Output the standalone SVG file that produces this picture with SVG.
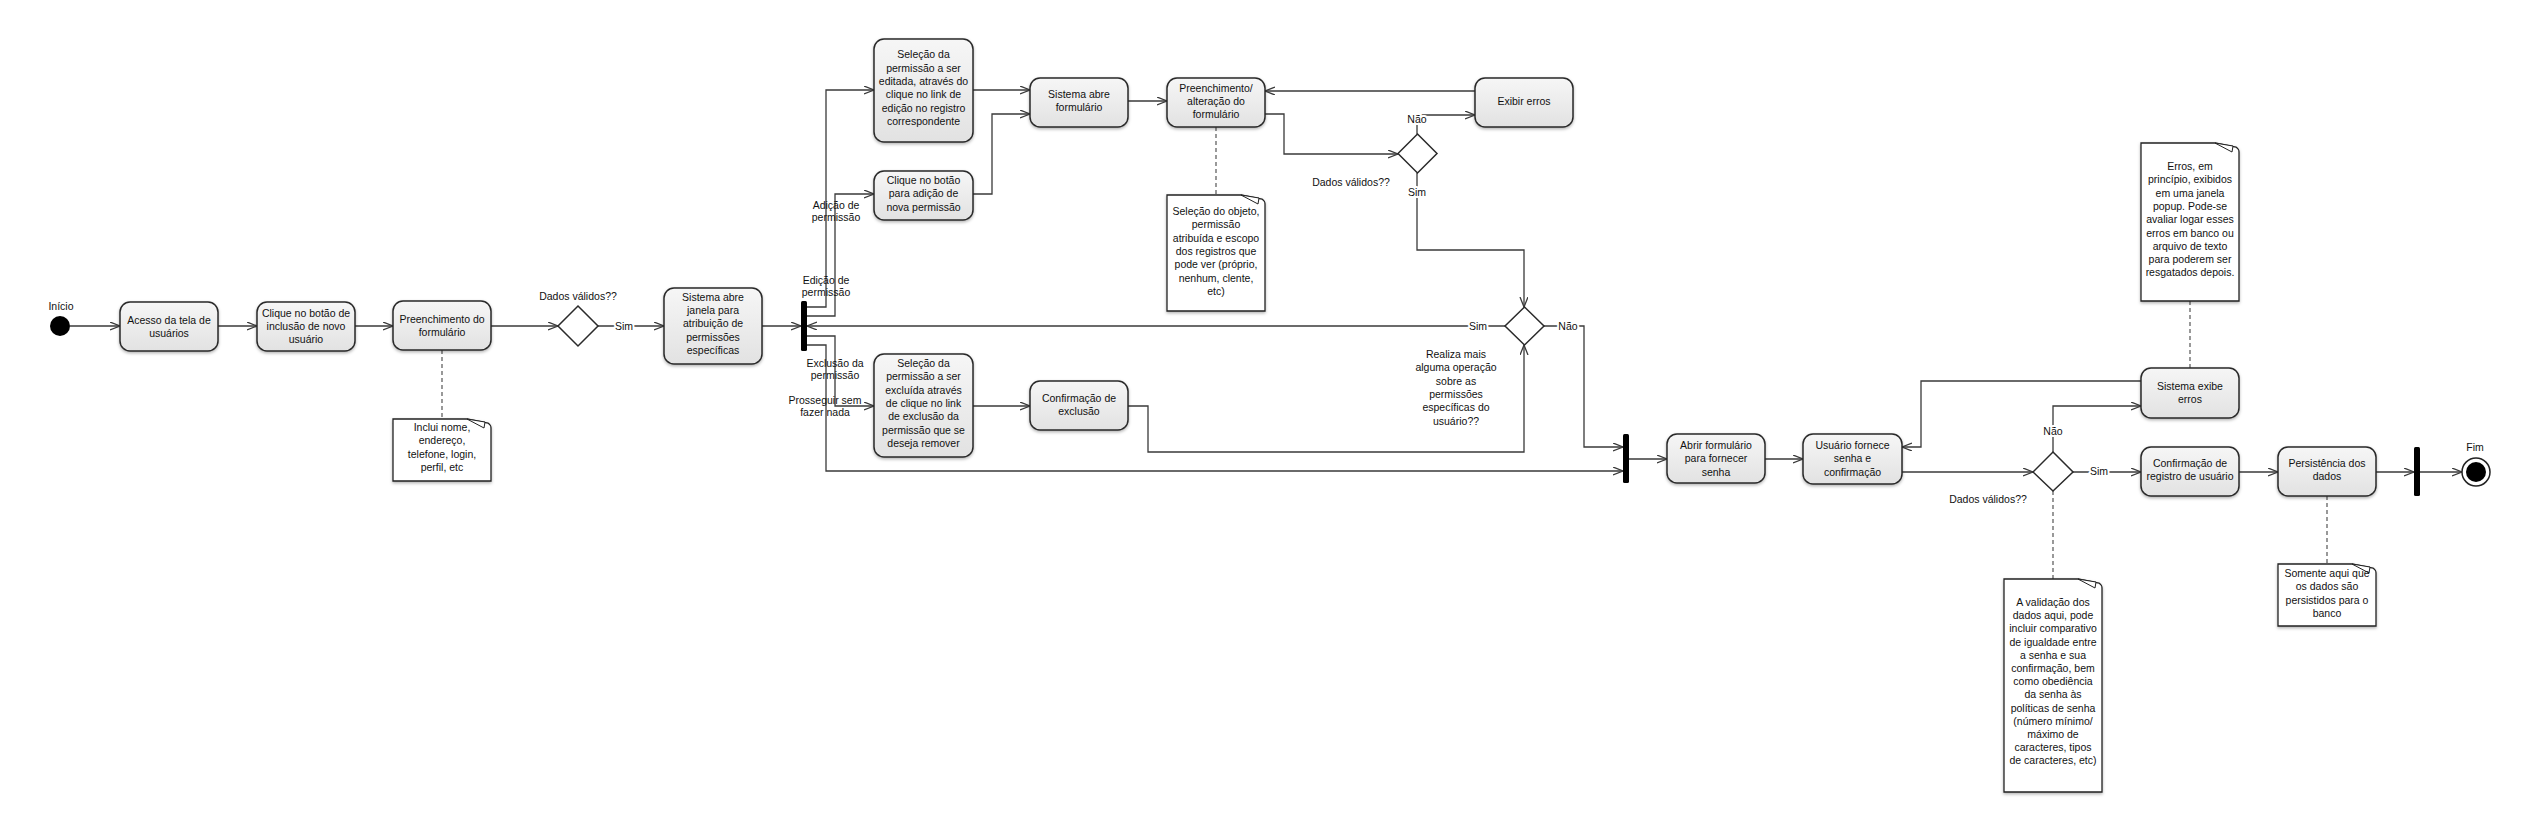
<svg xmlns="http://www.w3.org/2000/svg" width="2533" height="831" viewBox="0 0 2533 831">
<style>
text{font-family:"Liberation Sans",Arial,sans-serif;font-size:10.5px;fill:#111;text-anchor:middle}
.box{fill:url(#g);stroke:#2a2a2a;stroke-width:1.5;filter:url(#sh)}
.note{fill:#fff;stroke:#222;stroke-width:1.3;filter:url(#sh)}
.curl{fill:#fff;stroke:#222;stroke-width:1}
.bar{fill:#000}
.c{fill:none;stroke:#3a3a3a;stroke-width:1.3;marker-end:url(#a)}
.d{fill:none;stroke:#555;stroke-width:1.2;stroke-dasharray:4 3}
.lbl{paint-order:stroke;stroke:#fff;stroke-width:4px;stroke-linejoin:round}
</style>
<defs>
<linearGradient id="g" x1="0" y1="0" x2="0" y2="1"><stop offset="0" stop-color="#f6f6f6"/><stop offset="1" stop-color="#e2e2e2"/></linearGradient>
<filter id="sh" x="-10%" y="-10%" width="130%" height="130%"><feDropShadow dx="0" dy="1.5" stdDeviation="1.5" flood-color="#000" flood-opacity="0.3"/></filter>
<marker id="a" markerWidth="12" markerHeight="10" refX="10" refY="4" orient="auto" markerUnits="userSpaceOnUse"><path d="M0,0 L10,4 L0,8" fill="none" stroke="#3a3a3a" stroke-width="1.3"/></marker>
</defs>

<g id="connectors">
<path class="c" d="M70,326 H120"/>
<path class="c" d="M218,326 H257"/>
<path class="c" d="M355,326 H393"/>
<path class="c" d="M491,326 H558"/>
<path class="c" d="M598,326 H664"/>
<path class="c" d="M762,326 H801"/>
<path class="c" d="M1505,326 H807"/>
<path class="c" d="M807,307 H826 V90 H874"/>
<path class="c" d="M807,316 H835 V194 H874"/>
<path class="c" d="M807,336 H835 V406 H874"/>
<path class="c" d="M807,345 H826 V471 H1623"/>
<path class="c" d="M973,90 H1030"/>
<path class="c" d="M973,194 H992 V114 H1030"/>
<path class="c" d="M1128,101 H1167"/>
<path class="c" d="M1265,114 H1284 V154 H1398"/>
<path class="c" d="M1417,134 V115 H1475"/>
<path class="c" d="M1475,91 H1265"/>
<path class="c" d="M1417,173 V250 H1524 V307"/>
<path class="c" d="M973,406 H1030"/>
<path class="c" d="M1128,406 H1148 V452 H1524 V345"/>
<path class="c" d="M1544,326 H1584 V447 H1623"/>
<path class="c" d="M1629,459 H1667"/>
<path class="c" d="M1765,459 H1803"/>
<path class="c" d="M1902,472 H2033"/>
<path class="c" d="M2053,452 V406 H2141"/>
<path class="c" d="M2141,381 H1921 V447 H1902"/>
<path class="c" d="M2073,472 H2141"/>
<path class="c" d="M2239,472 H2278"/>
<path class="c" d="M2376,472 H2414"/>
<path class="c" d="M2420,472 H2462"/>
<path class="d" d="M442,350 V419"/>
<path class="d" d="M1216,127 V195"/>
<path class="d" d="M2190,301 V368"/>
<path class="d" d="M2053,491 V579"/>
<path class="d" d="M2327,496 V564"/>
<text x="61" y="310">Início</text>
<text x="578" y="300">Dados válidos??</text>
<text class="lbl" x="624" y="330">Sim</text>
<text x="826" y="284">Edição de</text><text x="826" y="296">permissão</text>
<text x="836" y="209">Adição de</text><text x="836" y="221">permissão</text>
<text x="835" y="367">Exclusão da</text><text x="835" y="379">permissão</text>
<text x="825" y="404">Prosseguir sem</text><text x="825" y="416">fazer nada</text>
<text class="lbl" x="1417" y="123">Não</text>
<text x="1351" y="186">Dados válidos??</text>
<text class="lbl" x="1417" y="196">Sim</text>
<text class="lbl" x="1478" y="330">Sim</text>
<text class="lbl" x="1568" y="330">Não</text>
<text x="1456" y="358">Realiza mais</text>
<text x="1456" y="371.3">alguma operação</text>
<text x="1456" y="384.6">sobre as</text>
<text x="1456" y="397.9">permissões</text>
<text x="1456" y="411.2">específicas do</text>
<text x="1456" y="424.5">usuário??</text>
<text class="lbl" x="2053" y="435">Não</text>
<text x="1988" y="503">Dados válidos??</text>
<text class="lbl" x="2099" y="475">Sim</text>
<text x="2475" y="451">Fim</text>
</g>

<g id="start"><circle cx="60" cy="326" r="10" fill="#000"/></g>

<g id="acesso"><rect class="box" x="120" y="302" width="98" height="49" rx="10"/>
<text x="169" y="323.5">Acesso da tela de</text><text x="169" y="336.7">usuários</text></g>

<g id="clique-inclusao"><rect class="box" x="257" y="302" width="98" height="49" rx="10"/>
<text x="306" y="317">Clique no botão de</text><text x="306" y="330.2">inclusão de novo</text><text x="306" y="343.4">usuário</text></g>

<g id="preenchimento"><rect class="box" x="393" y="301" width="98" height="49" rx="10"/>
<text x="442" y="322.7">Preenchimento do</text><text x="442" y="335.9">formulário</text></g>

<g id="dec1"><path d="M578,306 L598,326 L578,346 L558,326 Z" fill="#fff" stroke="#2a2a2a" stroke-width="1.5"/></g>

<g id="janela"><rect class="box" x="664" y="288" width="98" height="76" rx="10"/>
<text x="713" y="301">Sistema abre</text><text x="713" y="314.2">janela para</text><text x="713" y="327.4">atribuição de</text><text x="713" y="340.6">permissões</text><text x="713" y="353.8">específicas</text></g>

<g id="fork"><rect class="bar" x="801" y="301" width="6" height="50" rx="1.5"/></g>

<g id="sel-edit"><rect class="box" x="874" y="39" width="99" height="103" rx="10"/>
<text x="923.5" y="58.3">Seleção da</text><text x="923.5" y="71.6">permissão a ser</text><text x="923.5" y="84.9">editada, através do</text><text x="923.5" y="98.2">clique no link de</text><text x="923.5" y="111.5">edição no registro</text><text x="923.5" y="124.8">correspondente</text></g>

<g id="clique-adicao"><rect class="box" x="874" y="171" width="99" height="49" rx="10"/>
<text x="923.5" y="184">Clique no botão</text><text x="923.5" y="197.3">para adição de</text><text x="923.5" y="210.6">nova permissão</text></g>

<g id="abre-form"><rect class="box" x="1030" y="78" width="98" height="49" rx="10"/>
<text x="1079" y="98.3">Sistema abre</text><text x="1079" y="111.3">formulário</text></g>

<g id="preench-alt"><rect class="box" x="1167" y="78" width="98" height="49" rx="10"/>
<text x="1216" y="92.3">Preenchimento/</text><text x="1216" y="105">alteração do</text><text x="1216" y="118">formulário</text></g>

<g id="exibir"><rect class="box" x="1475" y="78" width="98" height="49" rx="10"/>
<text x="1524" y="105">Exibir erros</text></g>

<g id="dec2"><path d="M1417.5,134 L1437,153.5 L1417.5,173 L1398,153.5 Z" fill="#fff" stroke="#2a2a2a" stroke-width="1.5"/></g>

<g id="note-objeto"><path class="note" d="M1167,195 H1241 L1262,199 Q1265,201 1265,204 V311 H1167 Z"/><path class="curl" d="M1241,195 L1258,204 L1259,198 Z"/>
<text x="1216" y="215">Seleção do objeto,</text><text x="1216" y="228.3">permissão</text><text x="1216" y="241.6">atribuída e escopo</text><text x="1216" y="254.9">dos registros que</text><text x="1216" y="268.2">pode ver (próprio,</text><text x="1216" y="281.5">nenhum, clente,</text><text x="1216" y="294.8">etc)</text></g>

<g id="dec3"><path d="M1524.5,307 L1544,326 L1524.5,345 L1505,326 Z" fill="#fff" stroke="#2a2a2a" stroke-width="1.5"/></g>

<g id="sel-excl"><rect class="box" x="874" y="354" width="99" height="103" rx="10"/>
<text x="923.5" y="367">Seleção da</text><text x="923.5" y="380.3">permissão a ser</text><text x="923.5" y="393.6">excluída através</text><text x="923.5" y="406.9">de clique no link</text><text x="923.5" y="420.2">de exclusão da</text><text x="923.5" y="433.5">permissão que se</text><text x="923.5" y="446.8">deseja remover</text></g>

<g id="conf-excl"><rect class="box" x="1030" y="381" width="98" height="49" rx="10"/>
<text x="1079" y="402">Confirmação de</text><text x="1079" y="415">exclusão</text></g>

<g id="join1"><rect class="bar" x="1623" y="434" width="6" height="49" rx="1.5"/></g>

<g id="abrir-senha"><rect class="box" x="1667" y="434" width="98" height="49" rx="10"/>
<text x="1716" y="449">Abrir formulário</text><text x="1716" y="462.3">para fornecer</text><text x="1716" y="475.6">senha</text></g>

<g id="usuario-senha"><rect class="box" x="1803" y="434" width="99" height="50" rx="10"/>
<text x="1852.5" y="449">Usuário fornece</text><text x="1852.5" y="462.3">senha e</text><text x="1852.5" y="475.6">confirmação</text></g>

<g id="dec4"><path d="M2053,452 L2073,472 L2053,491 L2033,472 Z" fill="#fff" stroke="#2a2a2a" stroke-width="1.5"/></g>

<g id="exibe-erros"><rect class="box" x="2141" y="368" width="98" height="50" rx="10"/>
<text x="2190" y="389.7">Sistema exibe</text><text x="2190" y="403">erros</text></g>

<g id="conf-registro"><rect class="box" x="2141" y="447" width="98" height="49" rx="10"/>
<text x="2190" y="467">Confirmação de</text><text x="2190" y="480">registro de usuário</text></g>

<g id="note-erros"><path class="note" d="M2141,143 H2215 L2236,147 Q2239,149 2239,152 V301 H2141 Z"/><path class="curl" d="M2215,143 L2232,152 L2233,146 Z"/>
<text x="2190" y="170">Erros, em</text><text x="2190" y="183.3">princípio, exibidos</text><text x="2190" y="196.6">em uma janela</text><text x="2190" y="209.9">popup. Pode-se</text><text x="2190" y="223.2">avaliar logar esses</text><text x="2190" y="236.5">erros em banco ou</text><text x="2190" y="249.8">arquivo de texto</text><text x="2190" y="263.1">para poderem ser</text><text x="2190" y="276.4">resgatados depois.</text></g>

<g id="note-validacao"><path class="note" d="M2004,579 H2078 L2099,583 Q2102,585 2102,588 V792 H2004 Z"/><path class="curl" d="M2078,579 L2095,588 L2096,582 Z"/>
<text x="2053" y="606">A validação dos</text><text x="2053" y="619.2">dados aqui, pode</text><text x="2053" y="632.4">incluir comparativo</text><text x="2053" y="645.6">de igualdade entre</text><text x="2053" y="658.8">a senha e sua</text><text x="2053" y="672">confirmação, bem</text><text x="2053" y="685.2">como obediência</text><text x="2053" y="698.4">da senha às</text><text x="2053" y="711.6">políticas de senha</text><text x="2053" y="724.8">(número mínimo/</text><text x="2053" y="738">máximo de</text><text x="2053" y="751.2">caracteres, tipos</text><text x="2053" y="764.4">de caracteres, etc)</text></g>

<g id="persistencia"><rect class="box" x="2278" y="447" width="98" height="49" rx="10"/>
<text x="2327" y="467">Persistência dos</text><text x="2327" y="480">dados</text></g>

<g id="note-persist"><path class="note" d="M2278,564 H2352 L2373,568 Q2376,570 2376,573 V626 H2278 Z"/><path class="curl" d="M2352,564 L2369,573 L2370,567 Z"/>
<text x="2327" y="577">Somente aqui que</text><text x="2327" y="590">os dados são</text><text x="2327" y="603.5">persistidos para o</text><text x="2327" y="617">banco</text></g>

<g id="join2"><rect class="bar" x="2414" y="447" width="6" height="49" rx="1.5"/></g>

<g id="end"><circle cx="2476" cy="472" r="14" fill="#fff" stroke="#222" stroke-width="1.5"/><circle cx="2476" cy="472" r="10" fill="#000"/></g>

<g id="note-incluir"><path class="note" d="M393,419 H467 L488,423 Q491,425 491,428 V481 H393 Z"/><path class="curl" d="M467,419 L484,428 L485,422 Z"/>
<text x="442" y="431">Inclui nome,</text><text x="442" y="444.3">endereço,</text><text x="442" y="457.6">telefone, login,</text><text x="442" y="470.9">perfil, etc</text></g>
</svg>
